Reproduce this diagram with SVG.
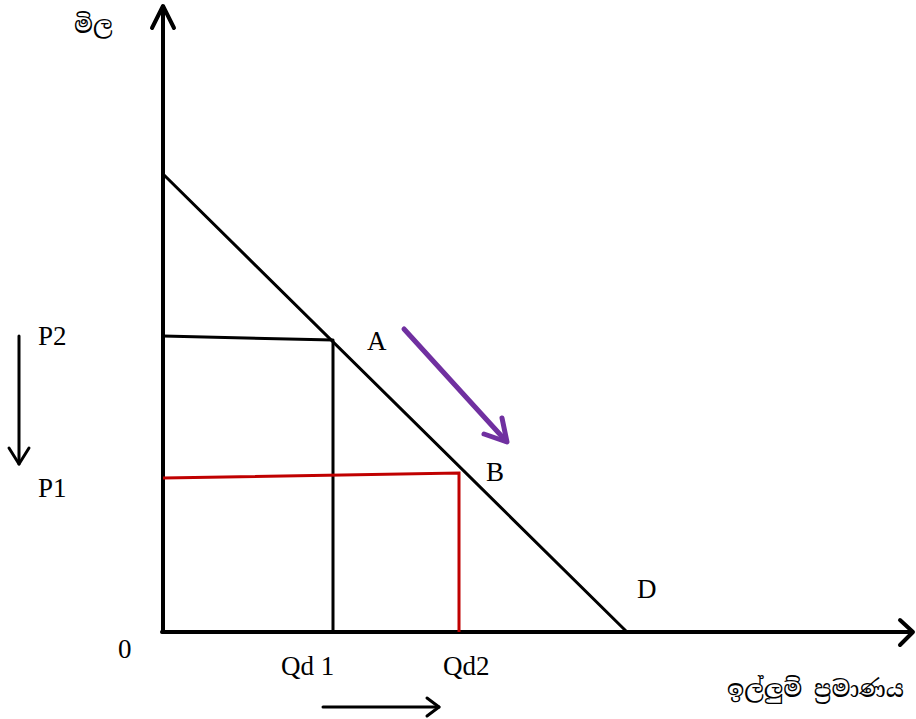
<svg xmlns="http://www.w3.org/2000/svg" width="916" height="719" viewBox="0 0 916 719">
<style>
.t{font-family:"Liberation Serif","Times New Roman",serif;font-size:27px;fill:#000}
.s{font-family:"Noto Serif Sinhala","Noto Sans Sinhala","Iskoola Pota","Noto Sans",sans-serif;font-size:23px;fill:#000}
.k{fill:none;stroke:#000;stroke-linecap:round;stroke-linejoin:round}
.r{fill:none;stroke:#C00000}
</style>
<rect width="916" height="719" fill="#fff"/>
<g id="connectors">
<g id="y-axis"><line class="k" x1="163" y1="632" x2="163" y2="7" stroke-width="4"/><polyline class="k" points="152,28 163,6 174,28" stroke-width="4"/></g>
<g id="x-axis"><line class="k" x1="162" y1="632" x2="912" y2="632" stroke-width="4"/><polyline class="k" points="900,620 913,632 900,645" stroke-width="4"/></g>
<line id="demand" class="k" x1="163" y1="174" x2="627" y2="632" stroke-width="3"/>
<polyline id="p2-lines" class="k" points="163,336 333,340 333,632" stroke-width="3" stroke-linecap="butt"/>
<polyline id="p1-lines" class="r" points="163,478 459,473 459,632" stroke-width="3"/>
<g id="price-arrow"><line class="k" x1="19" y1="336" x2="19" y2="464" stroke-width="3"/><polyline class="k" points="9,448 19,464 29,448" stroke-width="3"/></g>
<g id="qty-arrow"><line class="k" x1="323" y1="707" x2="439" y2="707" stroke-width="3"/><polyline class="k" points="427,698 439,707 427,716" stroke-width="3"/></g>
<g id="move-arrow" stroke="#7030A0" stroke-width="5" fill="none" stroke-linecap="round" stroke-linejoin="round"><line x1="404" y1="329" x2="506" y2="441"/><polyline points="484,434 507,442 502,418"/></g>
</g>
<g id="labels">
<text id="lbl-price" class="s" x="74" y="33">මිල</text>
<text id="lbl-qty" class="s" x="727" y="697">ඉල්ලුම් ප්‍රමාණය</text>
<text id="lbl-A" class="t" x="367" y="350">A</text>
<text id="lbl-B" class="t" x="486" y="481">B</text>
<text id="lbl-D" class="t" x="637" y="598">D</text>
<text id="lbl-0" class="t" x="118" y="658">0</text>
<text id="lbl-P2" class="t" x="38" y="345">P2</text>
<text id="lbl-P1" class="t" x="38" y="497">P1</text>
<text id="lbl-Qd1" class="t" x="281" y="675">Qd 1</text>
<text id="lbl-Qd2" class="t" x="443" y="675">Qd2</text>
</g>
</svg>
